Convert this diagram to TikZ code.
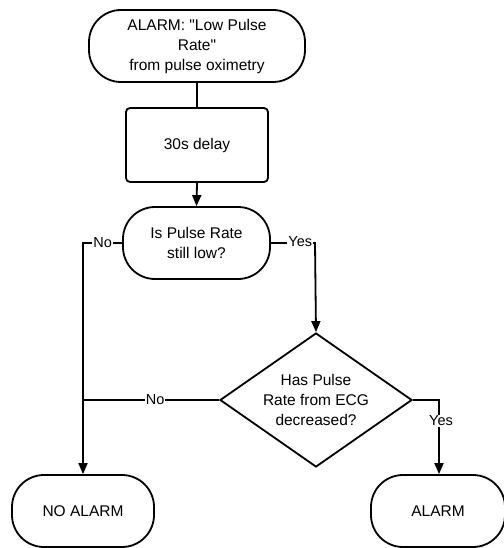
\documentclass[tikz,border=0pt]{standalone}
\usepackage{fontspec}
\setmainfont{Liberation Sans}[Ligatures=TeXOff]
\usetikzlibrary{arrows.meta,shapes.geometric}
\begin{document}
\begin{tikzpicture}[x=1pt,y=-1pt,
  line width=1.8pt,
  font=\fontsize{15.5}{20}\selectfont,
  every node/.style={align=center},
  terminal/.style={draw, rectangle, rounded corners=32pt, inner sep=0pt},
  procbox/.style={draw, rectangle, rounded corners=4pt, inner sep=0pt},
  decision/.style={draw, diamond, aspect=1.43, inner sep=0pt,
    minimum width=192pt, minimum height=134pt},
  flow/.style={-{Triangle[length=11pt,width=9pt]}},
  lbl/.style={fill=white, inner sep=1pt, font=\fontsize{14.5}{16}\selectfont}]
\useasboundingbox (0,0) rectangle (503,548);

% nodes
\node[terminal, minimum width=216pt, minimum height=72pt] (start) at (197,46)
  {ALARM: "Low Pulse\\Rate"\\from pulse oximetry};
\node[procbox, minimum width=142pt, minimum height=74pt] (delay) at (197,145) {30s delay};
\node[terminal, minimum width=147pt, minimum height=72pt] (low) at (196.5,243)
  {Is Pulse Rate\\still low?};
\node[decision] (ecg) at (316,400) {Has Pulse\\Rate from ECG\\decreased?};
\node[terminal, minimum width=142pt, minimum height=72pt] (noalarm) at (83,511) {NO ALARM};
\node[terminal, minimum width=134pt, minimum height=72pt] (alarm) at (438,511) {ALARM};

% bend points
\coordinate (lowL) at (83,243);
\coordinate (lowR) at (315,243);
\coordinate (ecgL) at (83,400);
\coordinate (ecgR) at (439,400);

% connectors
\draw (start.south) -- (delay.north);
\draw[flow] (delay.south) -- (low.north);
\draw[flow] (low.west) -- node[lbl]{No} (lowL) -- (noalarm.north);
\draw[flow] (low.east) -- (lowR) -- (ecg.north);
\node[lbl, anchor=east] (yes1) at (314,242) {Yes};
\draw (ecg.west) -- node[lbl, pos=0.47]{No} (ecgL);
\draw[flow] (ecg.east) -- (ecgR) -- (ecgR |- alarm.north);
\node[lbl] (yes2) at (441,421) {Yes};
\end{tikzpicture}
\end{document}
